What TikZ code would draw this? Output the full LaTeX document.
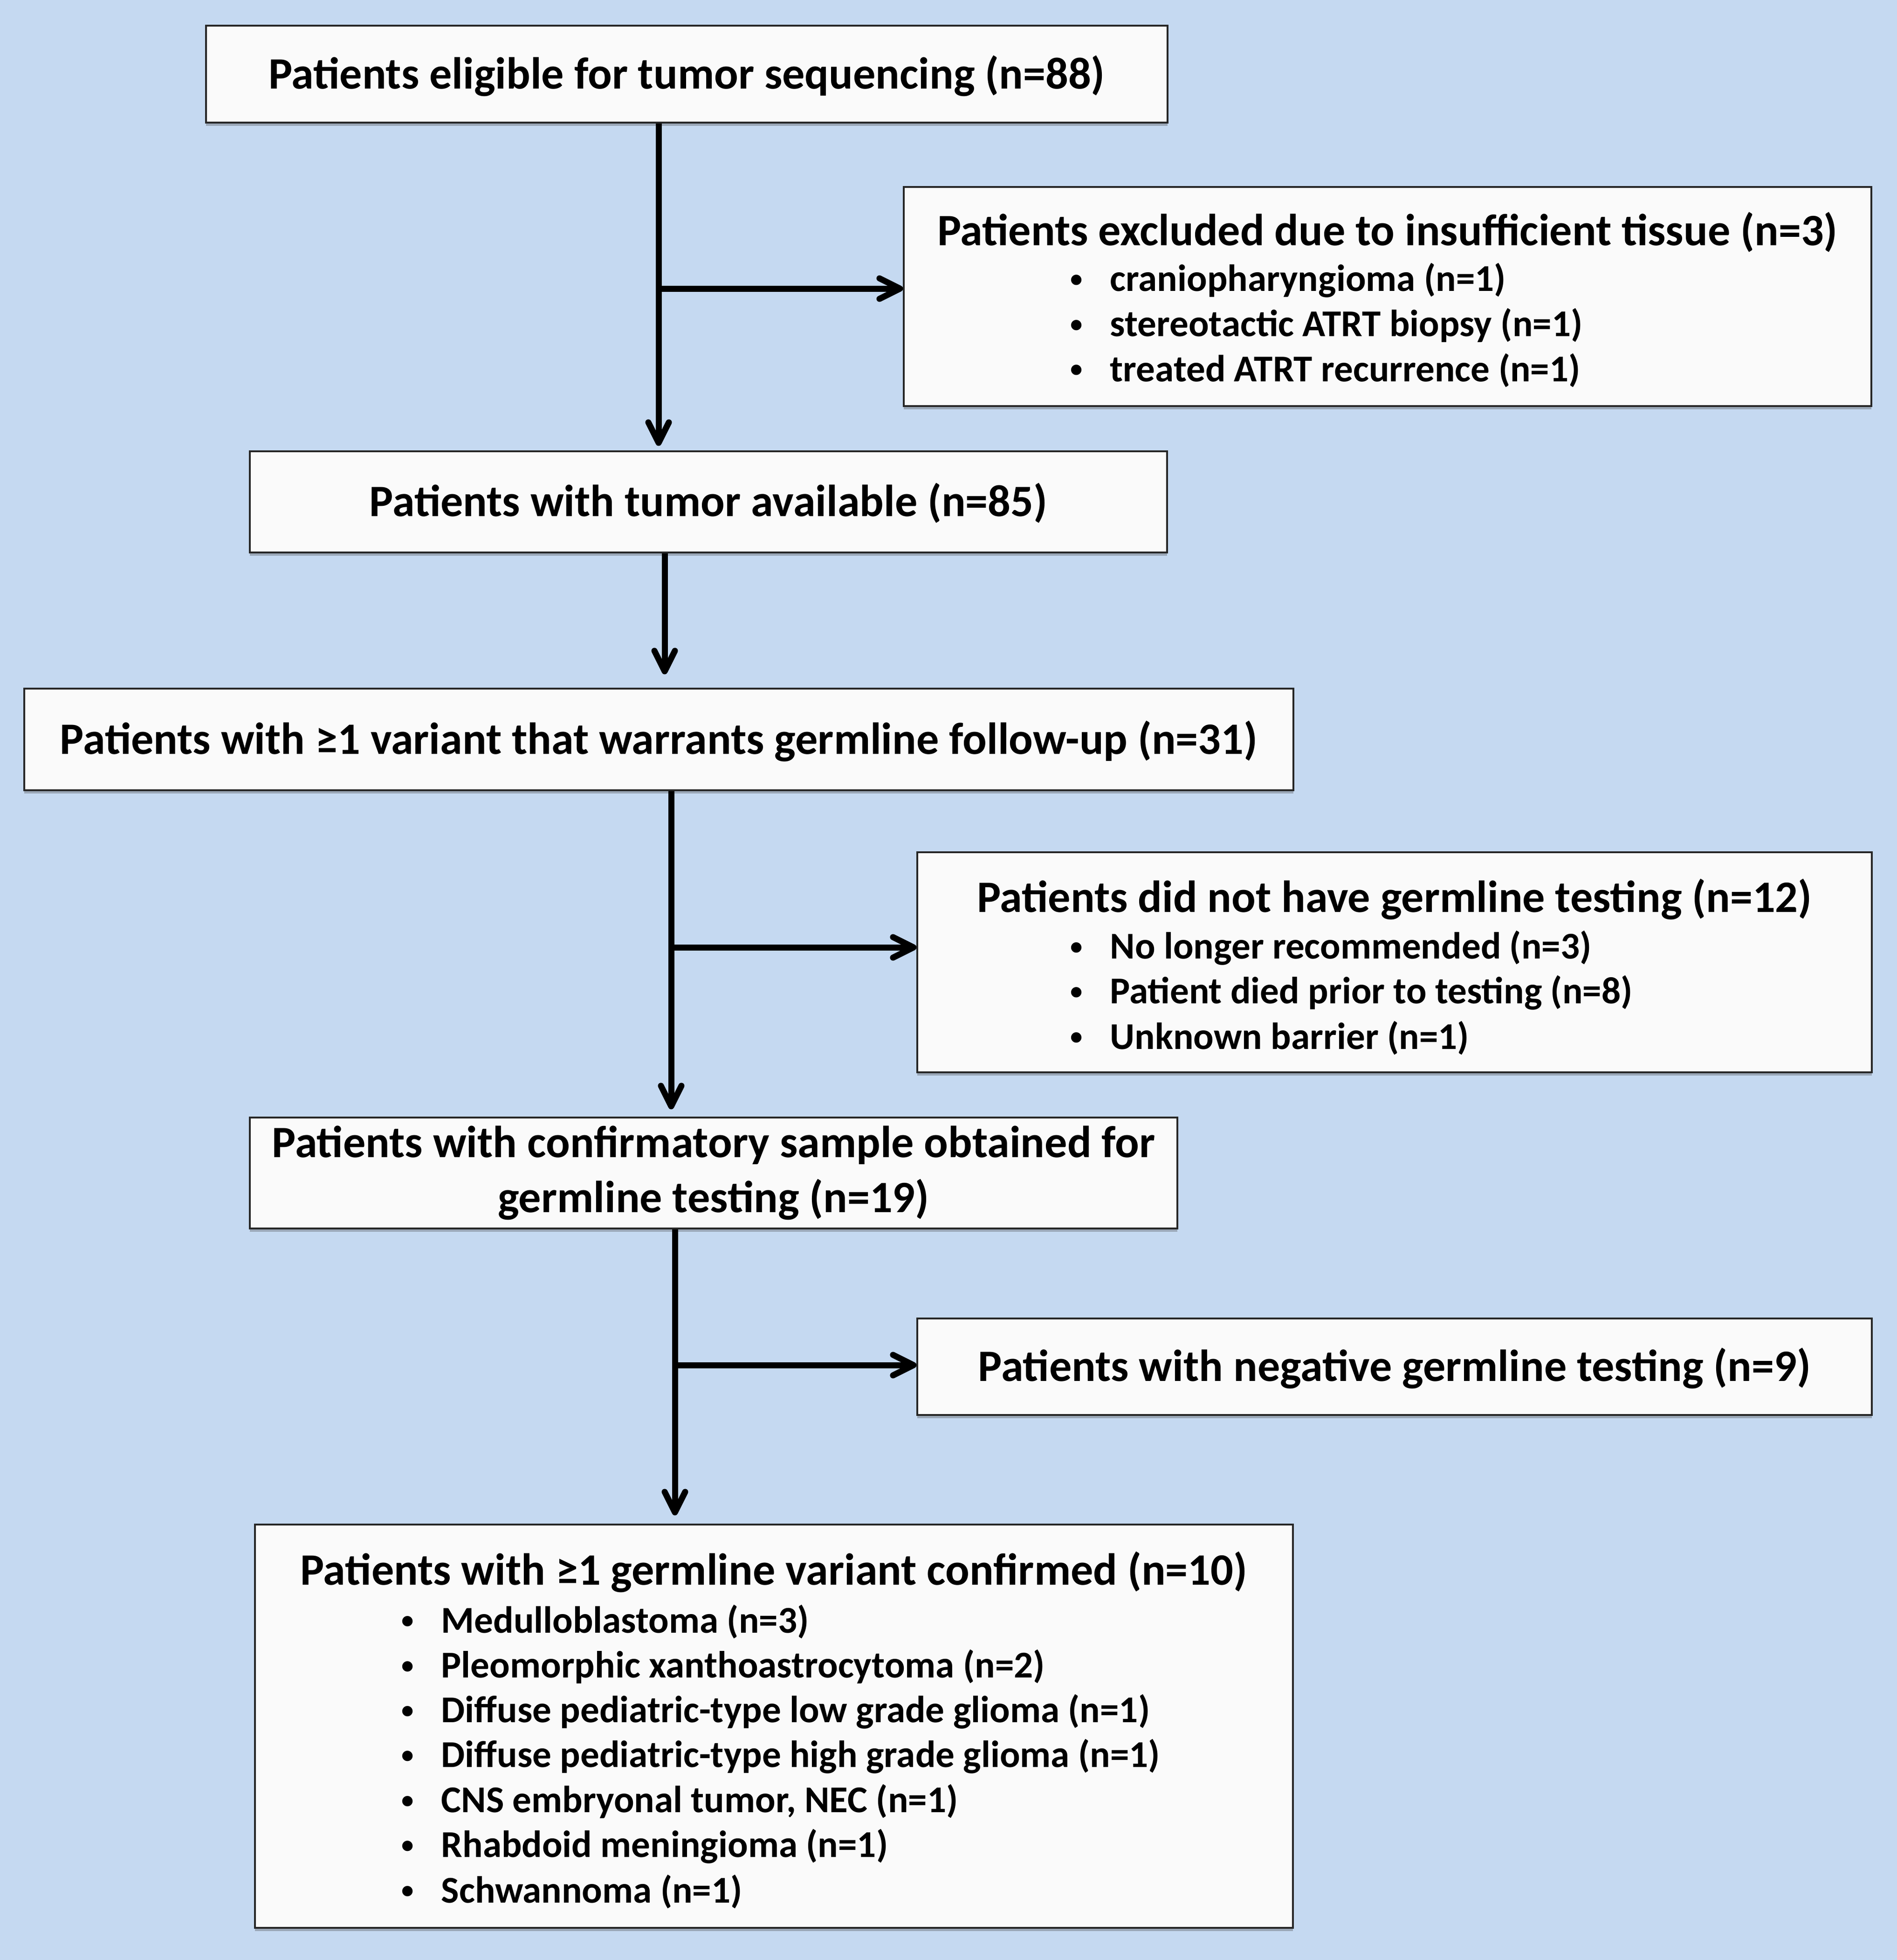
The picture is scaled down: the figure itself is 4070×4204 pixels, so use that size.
\documentclass[tikz,border=0pt]{standalone}
\usepackage{fontspec}
\setmainfont{Carlito}
\usetikzlibrary{arrows.meta,shadows}
\definecolor{bgblue}{HTML}{C5D9F1}
\definecolor{boxfill}{HTML}{FAFAFA}
\tikzset{
  box/.style={draw=black!85, line width=0.9pt, fill=boxfill, inner sep=0pt,
    drop shadow={shadow xshift=0mm, shadow yshift=-0.7mm, opacity=0.35, fill=black!70}},
  title/.style={font=\fontsize{27.4}{33.6}\selectfont\bfseries, align=center},
  item/.style={font=\fontsize{23.1}{28}\selectfont\bfseries, anchor=west, inner sep=0pt},
  flow/.style={line width=3.7pt, -{Straight Barb[length=4.4mm,width=4.4mm,round]}}
}
\newcommand{\bul}[1]{\makebox[8.5mm][l]{\raisebox{2.6pt}{\fontsize{15}{15}\selectfont\textbullet}}#1}
\begin{document}
\begin{tikzpicture}[x=0.1mm, y=-0.1mm]
  \fill[bgblue] (0,0) rectangle (4070,4204);
  \useasboundingbox (0,0) rectangle (4070,4204);

  % boxes
  \node[box, title, minimum width=206.3mm, minimum height=20.8mm, text depth=0.9mm] (elig) at (1473.5,159)
    {Patients eligible for tumor sequencing (n=88)};
  \node[box, minimum width=207.6mm, minimum height=47mm] (excl) at (2977,636) {};
  \node[box, title, minimum width=196.8mm, minimum height=21.7mm, text depth=0.9mm] (tum) at (1520,1076.5)
    {Patients with tumor available (n=85)};
  \node[box, title, minimum width=272.3mm, minimum height=21.8mm, text depth=0.9mm] (var) at (1413.5,1586)
    {Patients with ≥1 variant that warrants germline follow-up (n=31)};
  \node[box, minimum width=204.8mm, minimum height=47.2mm] (notest) at (2992,2064) {};
  \node[box, title, minimum width=199mm, minimum height=23.8mm] (conf) at (1531,2516)
    {Patients with confirmatory sample obtained for\\germline testing (n=19)};
  \node[box, title, minimum width=204.8mm, minimum height=20.7mm, text depth=0.9mm] (neg) at (2992,2931.5)
    {Patients with negative germline testing (n=9)};
  \node[box, minimum width=222.7mm, minimum height=86.5mm] (gpos) at (1660.5,3702.5) {};

  % list boxes
  \node[title] (excl-t) at (2977,498) {Patients excluded due to insufficient tissue (n=3)};
  \foreach \txt [count=\i] in {craniopharyngioma (n=1), stereotactic ATRT biopsy (n=1),
      treated ATRT recurrence (n=1)}
    \node[item] (excl-\i) at (2296,{601+96.5*(\i-1)}) {\bul{\txt}};

  \node[title] (notest-t) at (2992,1929) {Patients did not have germline testing (n=12)};
  \foreach \txt [count=\i] in {No longer recommended (n=3), Patient died prior to testing (n=8),
      Unknown barrier (n=1)}
    \node[item] (notest-\i) at (2296,{2033+96.5*(\i-1)}) {\bul{\txt}};

  \node[title] (gpos-t) at (1660.5,3372) {Patients with ≥1 germline variant confirmed (n=10)};
  \foreach \txt [count=\i] in {Medulloblastoma (n=3), Pleomorphic xanthoastrocytoma (n=2),
      Diffuse pediatric-type low grade glioma (n=1), Diffuse pediatric-type high grade glioma (n=1),
      {CNS embryonal tumor, NEC (n=1)}, Rhabdoid meningioma (n=1), Schwannoma (n=1)}
    \node[item] (gpos-\i) at (861,{3478+96.5*(\i-1)}) {\bul{\txt}};

  % connectors
  \coordinate (j1) at (1413,619);
  \coordinate (j2) at (1426,1300);
  \coordinate (j3) at (1440,2032);
  \coordinate (j4) at (1448,2928);
  \draw[flow] (elig.south -| j1) -- ([yshift=1mm]tum.north -| j1);
  \draw[flow] (j1) -- (excl.west |- j1);
  \draw[flow] (tum.south -| j2) -- ([yshift=2.9mm]var.north -| j2);
  \draw[flow] (var.south -| j3) -- ([yshift=1.6mm]conf.north -| j3);
  \draw[flow] (j3) -- (notest.west |- j3);
  \draw[flow] (conf.south -| j4) -- ([yshift=1.8mm]gpos.north -| j4);
  \draw[flow] (j4) -- (neg.west |- j4);
\end{tikzpicture}
\end{document}
